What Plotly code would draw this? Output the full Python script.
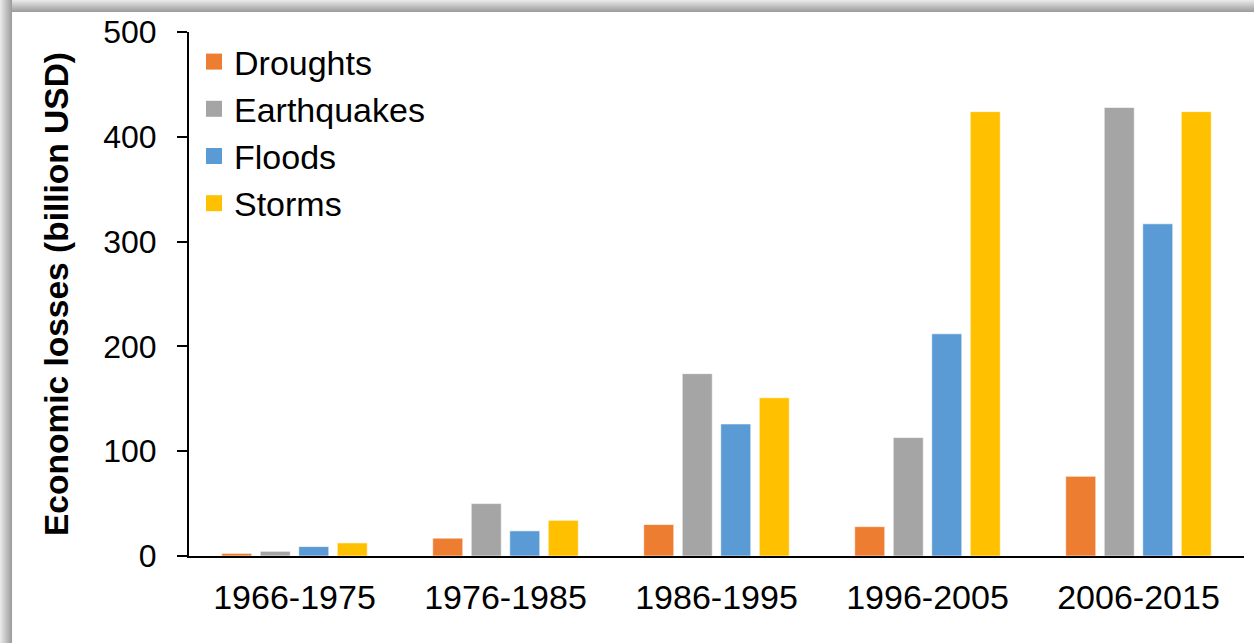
import plotly.graph_objects as go

decades = ["1966-1975", "1976-1985", "1986-1995", "1996-2005", "2006-2015"]
droughts = [2.5, 17, 30, 28, 76]
earthquakes = [4.5, 50, 174, 113, 428]
floods = [9, 24, 126, 212, 317]
storms = [12.5, 34, 151, 424, 424]

series = [
    ("Droughts", droughts, "#ED7D31"),
    ("Earthquakes", earthquakes, "#A5A5A5"),
    ("Floods", floods, "#5B9BD5"),
    ("Storms", storms, "#FFC000"),
]

W, H = 1254, 643
ML, MR, MT, MB = 189, 10, 32, 87
PW, PH = W - ML - MR, H - MT - MB
FONT = "Liberation Sans, Arial, sans-serif"


def px_x(x):
    return (x - ML) / PW


def px_y(y):
    return (H - MB - y) / PH


fig = go.Figure()
for name, vals, color in series:
    fig.add_trace(go.Bar(
        x=decades, y=vals, name=name, legendgroup=name, showlegend=False,
        marker=dict(color=color, line=dict(color="rgba(255,255,255,0.6)", width=1)),
    ))
# legend keys drawn as 16px squares
for name, vals, color in series:
    fig.add_trace(go.Scatter(
        x=[None], y=[None], mode="markers", name=name, legendgroup=name,
        marker=dict(symbol="square", size=16, color=color),
    ))

# grey shadowed frame along the top and left edges
shapes = []
steps = 12
for i in range(steps):
    c = int(0xE8 - (0xE8 - 0x9E) * i / (steps - 1))
    col = f"rgb({c},{c},{c})"
    shapes.append(dict(type="rect", xref="paper", yref="paper",
                       x0=px_x(i), x1=px_x(i + 1.05), y0=px_y(H), y1=px_y(0),
                       fillcolor=col, line=dict(width=0), layer="below"))
    shapes.append(dict(type="rect", xref="paper", yref="paper",
                       x0=px_x(i), x1=px_x(W), y0=px_y(i + 1.05), y1=px_y(i),
                       fillcolor=col, line=dict(width=0), layer="below"))

fig.update_layout(
    width=W, height=H, autosize=False,
    margin=dict(l=ML, r=MR, t=MT, b=MB, pad=0),
    paper_bgcolor="white", plot_bgcolor="rgba(0,0,0,0)",
    barmode="group", bargap=0.27, bargroupgap=0.22,
    font=dict(family=FONT, size=32, color="black"),
    shapes=shapes,
    showlegend=True,
    legend=dict(x=px_x(194), y=px_y(33), xanchor="left", yanchor="top",
                bgcolor="rgba(0,0,0,0)", font=dict(size=34),
                itemwidth=30, tracegroupgap=0, itemsizing="trace"),
    xaxis=dict(showline=True, linecolor="black", linewidth=2, ticks="",
               showgrid=False, tickfont=dict(size=34), ticklabelstandoff=10),
    yaxis=dict(range=[0, 500], dtick=100, showline=True, linecolor="black",
               linewidth=2, ticks="outside", ticklen=10, tickwidth=2,
               tickcolor="black", showgrid=False, zeroline=False,
               tickfont=dict(size=32), ticklabelstandoff=14,
               title=dict(text="<b>Economic losses (billion USD)</b>",
                          font=dict(size=33.5), standoff=24)),
)

fig.write_html("out.html")
